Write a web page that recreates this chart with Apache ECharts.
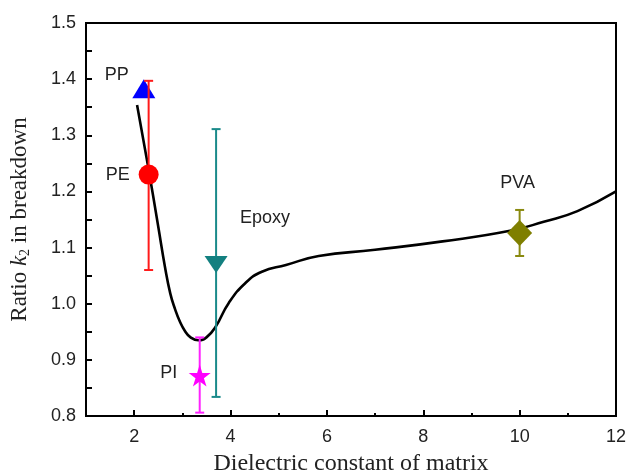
<!DOCTYPE html>
<html>
<head>
<meta charset="utf-8">
<script src="https://cdn.jsdelivr.net/npm/echarts@6/dist/echarts.min.js"></script>
<style>html,body{margin:0;padding:0;background:#fff}#c{width:629px;height:474px}</style>
</head>
<body>
<div id="c"></div>
<script>
// ---- data ----
const curveX = [2.06, 2.29, 2.50, 2.64, 2.75, 2.85, 2.95, 3.05, 3.17, 3.33, 3.50, 3.69, 3.96, 4.31, 4.65, 5.15, 5.83, 7.0, 8.4, 9.8, 10.5, 11.2, 12.0];
const curveY = [1.354, 1.244, 1.137, 1.065, 1.018, 0.990, 0.968, 0.952, 0.940, 0.935, 0.940, 0.959, 1.001, 1.037, 1.057, 1.069, 1.085, 1.096, 1.111, 1.130, 1.146, 1.165, 1.200];
const pointNames = ['PP', 'PE', 'Epoxy', 'PI', 'PVA'];
const pointX = [2.2, 2.3, 3.7, 3.36, 10.0];
const pointY = [1.383, 1.23, 1.07, 0.872, 1.126];
const errNames = ['PE', 'Epoxy', 'PI', 'PVA'];
const errX = [2.3, 3.7, 3.36, 10.0];
const errLow = [1.06, 0.834, 0.806, 1.085];
const errHigh = [1.397, 1.311, 0.940, 1.167];
const xLabelValues = [2, 4, 6, 8, 10, 12];
const xMinorValues = [3, 5, 7, 9, 11];

// ---- styles ----
const starPath = 'path://M50,0 L61.8,36.2 L100,36.2 L69.1,58.8 L80.9,95.1 L50,72.7 L19.1,95.1 L30.9,58.8 L0,36.2 L38.2,36.2 Z';
const pointStyle = {
  PP:    {symbol: 'triangle', size: [23, 19], rotate: 0,   color: '#0000ff', z: 2, off: [-27, -14]},
  PE:    {symbol: 'circle',   size: 20,       rotate: 0,   color: '#ff0000', z: 5, off: [-31, 0]},
  Epoxy: {symbol: 'triangle', size: [23, 17], rotate: 180, color: '#138080', z: 5, off: [49, -46]},
  PI:    {symbol: starPath,   size: 22,       rotate: 0,   color: '#ff00ff', z: 5, off: [-31, -3]},
  PVA:   {symbol: 'diamond',  size: [25, 26], rotate: 0,   color: '#7f7f00', z: 5, off: [-2, -50]}
};
const errColor = {PE: '#ff1a1a', Epoxy: '#1a8a8a', PI: '#ff22ff', PVA: '#8a8a10'};
const sans = 'Liberation Sans, Arial, sans-serif';
const serif = 'Liberation Serif, Times New Roman, serif';

const pointSeries = pointNames.map((n, i) => {
  const s = pointStyle[n];
  return {
    type: 'scatter', name: n, z: s.z,
    symbol: s.symbol, symbolSize: s.size, symbolRotate: s.rotate,
    itemStyle: {color: s.color, opacity: 1},
    data: [[pointX[i], pointY[i]]],
    label: {show: true, position: 'inside', offset: s.off, formatter: n, fontFamily: sans, fontSize: 18, color: '#222'},
    emphasis: {disabled: true}
  };
});

const errData = errX.map((x, i) => [x, errLow[i], errHigh[i], i]);

const option = {
  animation: false,
  backgroundColor: '#fff',
  grid: {left: 86, top: 23, right: 13, bottom: 58, outerBoundsMode: 'none', containLabel: false, show: true, borderColor: '#000', borderWidth: 2, backgroundColor: 'transparent'},
  xAxis: [{
    type: 'value', min: 1, max: 12,
    name: 'Dielectric constant of matrix', nameLocation: 'middle', nameGap: 36,
    nameTextStyle: {fontFamily: serif, fontSize: 24, color: '#222'},
    axisLine: {show: true, onZero: false, lineStyle: {color: '#000', width: 2}},
    axisTick: {show: true, inside: true, length: 6, customValues: xLabelValues, lineStyle: {color: '#000', width: 2}},
    axisLabel: {show: true, customValues: xLabelValues, margin: 12, fontFamily: sans, fontSize: 18, color: '#222'},
    splitLine: {show: false}
  }, {
    type: 'value', min: 1, max: 12, position: 'bottom',
    axisLine: {show: false},
    axisTick: {show: true, inside: true, length: 3, customValues: xMinorValues, lineStyle: {color: '#000', width: 2}},
    axisLabel: {show: false},
    splitLine: {show: false}
  }],
  yAxis: {
    type: 'value', min: 0.8, max: 1.5, interval: 0.1,
    name: 'Ratio {i|k}{s|2} in breakdown', nameLocation: 'middle', nameGap: 54, nameRotate: 90,
    nameTextStyle: {
      fontFamily: serif, fontSize: 23, color: '#222',
      rich: {
        i: {fontFamily: serif, fontStyle: 'italic', fontSize: 23, color: '#222'},
        s: {fontFamily: serif, fontSize: 14, color: '#222', verticalAlign: 'bottom', padding: [11, 0, 0, 0]}
      }
    },
    axisLine: {show: true, onZero: false, lineStyle: {color: '#000', width: 2}},
    axisTick: {show: true, inside: true, length: 6, lineStyle: {color: '#000', width: 2}},
    minorTick: {show: true, splitNumber: 2, length: 6, lineStyle: {color: '#000', width: 2}},
    axisLabel: {margin: 10, formatter: v => v.toFixed(1), fontFamily: sans, fontSize: 18, color: '#222'},
    splitLine: {show: false}
  },
  series: [{
    type: 'line', name: 'fit', z: 1,
    data: curveX.map((x, i) => [x, curveY[i]]),
    smooth: 0.5, showSymbol: false, symbol: 'none',
    lineStyle: {color: '#000', width: 2.6},
    emphasis: {disabled: true}
  }, {
    type: 'custom', name: 'errors', z: 4,
    data: errData,
    encode: {x: 0, y: [1, 2]},
    renderItem: function (params, api) {
      const x = api.value(0), lo = api.value(1), hi = api.value(2);
      const c = errColor[errNames[api.value(3)]];
      const pt = api.coord([x, hi]), pb = api.coord([x, lo]);
      const hw = 4.5;
      const st = {stroke: c, lineWidth: 2};
      return {type: 'group', children: [
        {type: 'line', shape: {x1: pt[0], y1: pt[1], x2: pb[0], y2: pb[1]}, style: st},
        {type: 'line', shape: {x1: pt[0] - hw, y1: pt[1], x2: pt[0] + hw, y2: pt[1]}, style: st},
        {type: 'line', shape: {x1: pb[0] - hw, y1: pb[1], x2: pb[0] + hw, y2: pb[1]}, style: st}
      ]};
    }
  }].concat(pointSeries)
};

const chart = echarts.init(document.getElementById('c'), null, {renderer: 'canvas'});
chart.setOption(option);
</script>
</body>
</html>
